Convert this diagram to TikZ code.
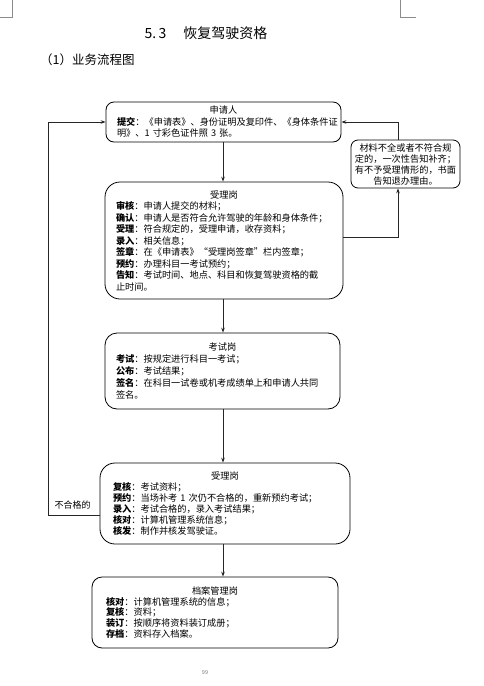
\documentclass[tikz,border=0pt]{standalone}
\usepackage{fontspec}
\setmainfont{Noto Sans CJK SC}
\usetikzlibrary{arrows.meta}
\tikzset{
  mbox/.style={draw=black, line width=0.8pt, align=left, inner ysep=0pt,
    font=\fontsize{9.2}{11.5}\selectfont},
  sidebox/.style={draw=black, line width=0.8pt, align=center, inner sep=0pt,
    rounded corners=7pt, font=\fontsize{9.2}{11}\selectfont},
  conn/.style={draw=black!85, line width=0.75pt, -{Stealth[length=5pt,width=3.6pt]}},
  cropmark/.style={draw=black!45, line width=0.5pt},
  plain/.style={inner sep=0pt}
}
\newcommand{\ttl}[1]{\makebox[\linewidth]{#1}}
\begin{document}
\begin{tikzpicture}[x=1pt,y=-1pt]
\useasboundingbox (0,0) rectangle (484,686);
% crop marks
\coordinate (cmL) at (12,17);
\coordinate (cmR) at (400,17);
\draw[cropmark] (cmL |- 0,0) -- (cmL) -- (cmL -| 0,0);
\draw[cropmark] (cmR |- 0,0) -- (cmR) -- (416,17);
% headings
\node[plain, font=\fontsize{14}{16}\selectfont] (title) at (206,33) {5.\,3\hspace{1.2em}恢复驾驶资格};
\node[plain, anchor=west, font=\fontsize{12.5}{14}\selectfont] (sub) at (40,60) {（1）业务流程图};
% boxes
\node[mbox, rounded corners=8pt, minimum width=235pt, minimum height=40pt,
  inner xsep=11pt, text width=213pt] (b1) at (223.5,122) {%
  \ttl{申请人}\\
  \textbf{提交}：《申请表》、身份证明及复印件、《身体条件证\\
  明》、1 寸彩色证件照 3 张。};
\node[sidebox, minimum width=109pt, minimum height=48pt, text width=105pt] (side) at (405.5,164) {%
  材料不全或者不符合规\\定的，一次性告知补齐；\\有不予受理情形的，书面\\告知退办理由。};
\node[mbox, rounded corners=15pt, minimum width=238pt, minimum height=117pt,
  inner xsep=11pt, text width=216pt] (b2) at (224,240.5) {%
  \ttl{受理岗}\\
  \textbf{审核}：申请人提交的材料；\\
  \textbf{确认}：申请人是否符合允许驾驶的年龄和身体条件；\\
  \textbf{受理}：符合规定的，受理申请，收存资料；\\
  \textbf{录入}：相关信息；\\
  \textbf{签章}：在《申请表》“受理岗签章”栏内签章；\\
  \textbf{预约}：办理科目一考试预约；\\
  \textbf{告知}：考试时间、地点、科目和恢复驾驶资格的截\\
  止时间。};
\node[mbox, rounded corners=12pt, minimum width=235pt, minimum height=76pt,
  inner xsep=11pt, text width=213pt, font=\fontsize{9.2}{12}\selectfont] (b3) at (222.5,371) {%
  \ttl{考试岗}\\
  \textbf{考试}：按规定进行科目一考试；\\
  \textbf{公布}：考试结果；\\
  \textbf{签名}：在科目一试卷或机考成绩单上和申请人共同\\
  签名。};
\node[mbox, rounded corners=15pt, minimum width=250pt, minimum height=81pt,
  inner xsep=13pt, text width=224pt, font=\fontsize{9.2}{11}\selectfont] (b4) at (225,503.5) {%
  \ttl{受理岗}\\
  \textbf{复核}：考试资料；\\
  \textbf{预约}：当场补考 1 次仍不合格的，重新预约考试；\\
  \textbf{录入}：考试合格的，录入考试结果；\\
  \textbf{核对}：计算机管理系统信息；\\
  \textbf{核发}：制作并核发驾驶证。};
\node[mbox, rounded corners=10pt, minimum width=246pt, minimum height=71pt,
  inner xsep=14pt, text width=218pt, font=\fontsize{9.2}{10.8}\selectfont] (b5) at (215,612.5) {%
  \ttl{档案管理岗}\\
  \textbf{核对}：计算机管理系统的信息；\\
  \textbf{复核}：资料；\\
  \textbf{装订}：按顺序将资料装订成册；\\
  \textbf{存档}：资料存入档案。};
% main spine
\coordinate (sp) at (223,0);
\draw[conn] (b1.south -| sp) -- (b2.north -| sp);
\draw[conn] (b2.south -| sp) -- (b3.north -| sp);
\draw[conn] (b3.south -| sp) -- (b4.north -| sp);
\draw[conn] (b4.south -| sp) -- (b5.north -| sp);
% right loop
\coordinate (rr) at (398,237);
\draw[conn] (b2.east |- rr) -- (rr) -- (side.south -| rr);
\draw[conn] (side.north -| rr) |- (b1.east);
% left feedback
\coordinate (fbl) at (48,515);
\draw[conn] (b4.west |- fbl) -- (fbl) |- (b1.west);
\node[plain, font=\fontsize{9}{10}\selectfont] (fail) at (72.5,505) {不合格的};
% page number
\node[plain, font=\fontsize{5.5}{6}\selectfont, text=black!55] (pg) at (205,673) {99};
\end{tikzpicture}
\end{document}
